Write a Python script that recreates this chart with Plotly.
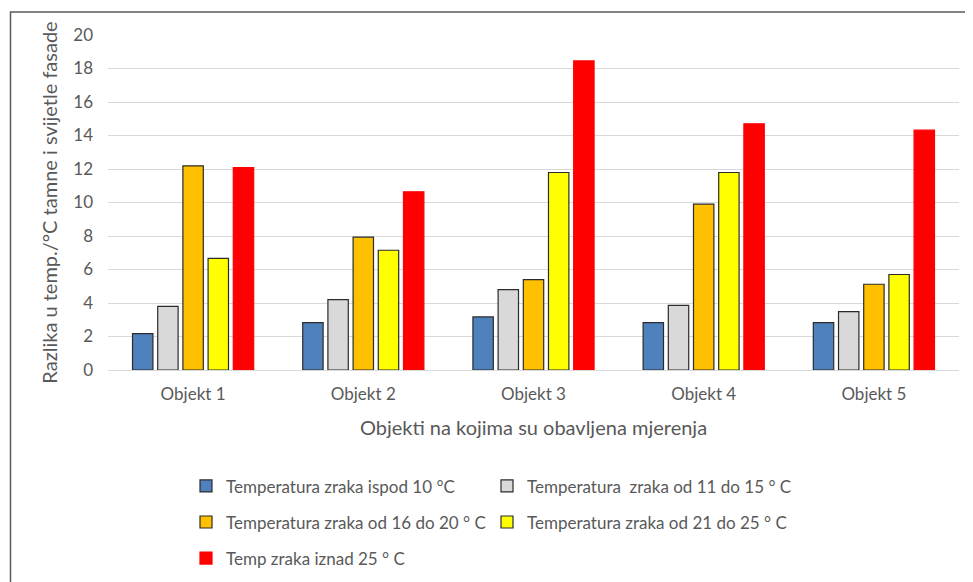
import plotly.graph_objects as go

categories = ["Objekt 1", "Objekt 2", "Objekt 3", "Objekt 4", "Objekt 5"]
series_names = [
    "Temperatura zraka ispod 10 °C",
    "Temperatura  zraka od 11 do 15 ° C",
    "Temperatura zraka od 16 do 20 ° C",
    "Temperatura zraka od 21 do 25 ° C",
    "Temp zraka iznad 25 ° C",
]
below_10 = [2.17, 2.83, 3.17, 2.83, 2.83]
from_11_to_15 = [3.80, 4.20, 4.80, 3.86, 3.49]
from_16_to_20 = [12.19, 7.93, 5.40, 9.90, 5.12]
from_21_to_25 = [6.67, 7.15, 11.79, 11.79, 5.70]
above_25 = [12.09, 10.64, 18.45, 14.70, 14.32]
y_ticks = [0, 2, 4, 6, 8, 10, 12, 14, 16, 18, 20]

values = [below_10, from_11_to_15, from_16_to_20, from_21_to_25, above_25]
colors = ["#4F81BD", "#D9D9D9", "#FFC000", "#FFFF00", "#FF0000"]
outlines = ["#2b2b2b", "#2b2b2b", "#2b2b2b", "#2b2b2b", "#FF0000"]
legends = ["legend", "legend2", "legend", "legend2", "legend"]

# page has an 8px body margin; figure pixel = page pixel - 8
OFF = 8
W, H = 973 - OFF, 582 - OFF
plot_left, plot_right, plot_top, plot_bottom = 108 - OFF, 959 - OFF, 35 - OFF, 370.5 - OFF
L, R, T, B = plot_left, W - plot_right, plot_top, H - plot_bottom
pw, ph = plot_right - plot_left, plot_bottom - plot_top

def px_x(x):
    return (x - OFF - plot_left) / pw

def px_y(y):
    return (plot_bottom - (y - OFF)) / ph

FONT = "Lato, 'Open Sans', sans-serif"
GREY = "#595959"

fig = go.Figure()
for i, (name, vals) in enumerate(zip(series_names, values)):
    fig.add_trace(go.Bar(
        x=categories, y=vals, name=name,
        marker=dict(color=colors[i], line=dict(color=outlines[i], width=1.2)),
        legend=legends[i], legendgroup=f"g{i}",
    ))

legend_common = dict(
    orientation="v", xanchor="left", yanchor="top",
    font=dict(family=FONT, size=17, color=GREY),
    bgcolor="rgba(0,0,0,0)", tracegroupgap=11, itemclick=False,
)

fig.update_layout(
    width=W, height=H,
    margin=dict(l=L, r=R, t=T, b=B, autoexpand=False),
    paper_bgcolor="white", plot_bgcolor="white",
    barmode="group", bargap=0.26, bargroupgap=0.19,
    font=dict(family=FONT, color=GREY),
    legend=dict(x=px_x(186), y=px_y(469), **legend_common),
    legend2=dict(x=px_x(487), y=px_y(469), **legend_common),
    xaxis=dict(
        showgrid=False, showline=True, linecolor="#D9D9D9", linewidth=1,
        ticks="", tickfont=dict(family=FONT, size=17, color=GREY),
        ticklabelstandoff=9,
        title=dict(text="Objekti na kojima su obavljena mjerenja",
                   font=dict(family=FONT, size=20, color=GREY), standoff=17),
    ),
    yaxis=dict(
        range=[0, 20], tickvals=y_ticks, showgrid=True, gridcolor="#D9D9D9",
        gridwidth=1, zeroline=False, ticks="",
        tickfont=dict(family=FONT, size=17, color=GREY),
        ticklabelstandoff=14,
        title=dict(text="Razlika u temp./°C tamne i svijetle fasade",
                   font=dict(family=FONT, size=20, color=GREY), standoff=10),
    ),
    shapes=[dict(
        type="rect", xref="paper", yref="paper",
        x0=px_x(10.5), x1=px_x(1000), y0=px_y(620), y1=px_y(12),
        line=dict(color="#595959", width=1.5), fillcolor="rgba(0,0,0,0)",
        layer="below",
    )],
)

fig.write_html("out.html")
